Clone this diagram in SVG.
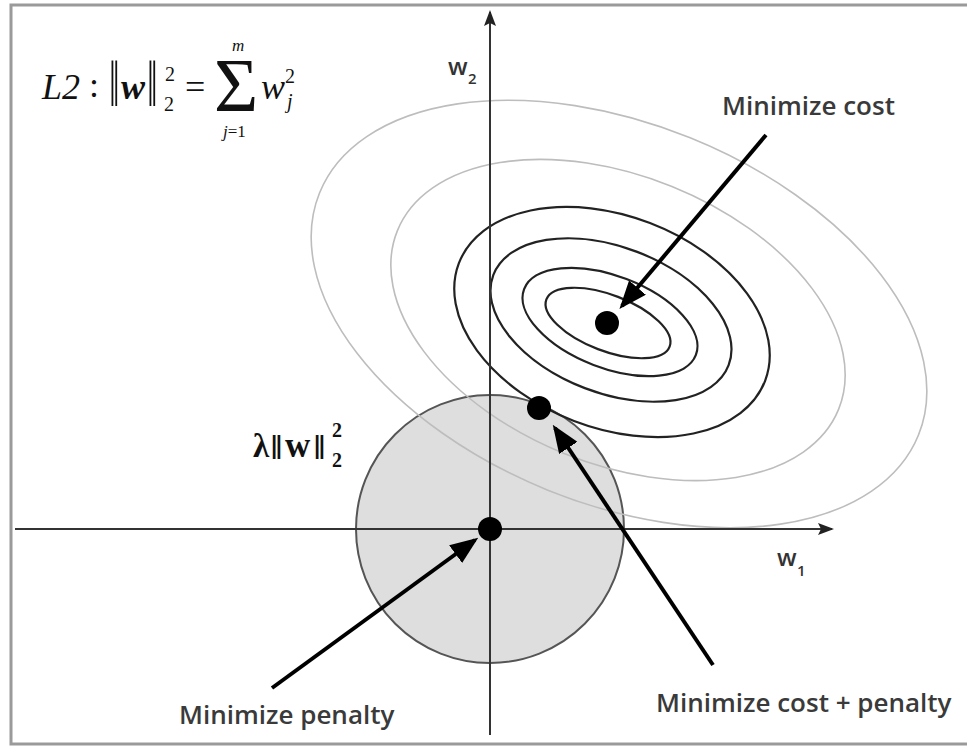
<svg xmlns="http://www.w3.org/2000/svg" width="967" height="746" viewBox="0 0 967 746">
<style>
.frame{fill:none;stroke:#9a9a9a;stroke-width:3}
.axis{stroke:#333;stroke-width:2;fill:none}
.dark{fill:none;stroke:#222;stroke-width:2.2}
.light{fill:none;stroke:#bdbdbd;stroke-width:1.6}
.dot{fill:#000}
.arrow{stroke:#000;stroke-width:4;fill:none}
.lbl{font-family:"Open Sans","Liberation Sans",sans-serif;font-size:26px;font-weight:600;fill:#3a3a3a}
.ax{font-family:"Open Sans","Liberation Sans",sans-serif;font-size:24px;font-weight:600;fill:#333}
.axs{font-family:"Open Sans","Liberation Sans",sans-serif;font-size:15px;font-weight:600;fill:#333}
.m{font-family:"Liberation Serif","DejaVu Serif",serif;fill:#111}
</style>
<defs>
<marker id="axhead" markerUnits="userSpaceOnUse" markerWidth="16" markerHeight="12" refX="14" refY="6" orient="auto">
<path d="M0,0 L16,6 L0,12 L3,6 z" fill="#222"/>
</marker>
<marker id="head" markerUnits="userSpaceOnUse" markerWidth="28" markerHeight="22" refX="24" refY="11" orient="auto">
<path d="M0,0 L28,11 L0,22 z" fill="#000"/>
</marker>
</defs>
<rect class="frame" x="11" y="5" width="960" height="739"/>

<g id="penalty-region">
<circle cx="490" cy="529" r="134" fill="#dedede" stroke="#555" stroke-width="2"/>
</g>

<g id="cost-contours">
<ellipse class="light" cx="619" cy="314" rx="323" ry="190" transform="rotate(22 619 314)"/>
<ellipse class="light" cx="618" cy="320" rx="238" ry="144" transform="rotate(22 618 320)"/>
<ellipse class="dark" cx="612" cy="322" rx="164" ry="106" transform="rotate(21 612 322)"/>
<ellipse class="dark" cx="611" cy="320" rx="126" ry="73" transform="rotate(21 611 320)"/>
<ellipse class="dark" cx="610" cy="322" rx="92" ry="46" transform="rotate(21 610 322)"/>
<ellipse class="dark" cx="608" cy="323" rx="66" ry="28" transform="rotate(21 608 323)"/>
</g>

<g id="axes">
<line class="axis" x1="490" y1="735" x2="490" y2="12" marker-end="url(#axhead)"/>
<line class="axis" x1="15" y1="529" x2="832" y2="529" marker-end="url(#axhead)"/>
<text class="ax" x="448" y="75">w</text><text class="axs" x="468" y="84">2</text>
<text class="ax" x="777" y="566">w</text><text class="axs" x="797" y="576">1</text>
</g>

<g id="points">
<circle class="dot" cx="607" cy="323" r="12"/>
<circle class="dot" cx="539" cy="408" r="12"/>
<circle class="dot" cx="490" cy="529" r="12"/>
</g>

<g id="connectors">
<line class="arrow" x1="766" y1="135" x2="622" y2="306" marker-end="url(#head)"/>
<line class="arrow" x1="713" y1="665" x2="555" y2="428" marker-end="url(#head)"/>
<line class="arrow" x1="272" y1="688" x2="475" y2="540" marker-end="url(#head)"/>
</g>

<g id="labels">
<text class="lbl" x="722" y="115">Minimize cost</text>
<text class="lbl" x="656" y="712">Minimize cost + penalty</text>
<text class="lbl" x="179" y="724">Minimize penalty</text>
</g>

<g id="l2-formula" class="m">
<text x="42" y="99" font-size="36" font-style="italic">L2</text>
<text x="89" y="97" font-size="36">:</text>
<text transform="translate(109,106) scale(1,1.7)" font-size="38">‖</text>
<text x="121" y="99" font-size="36" font-style="italic" font-weight="bold">w</text>
<text transform="translate(147,106) scale(1,1.7)" font-size="38">‖</text>
<text x="165" y="81" font-size="20">2</text>
<text x="164" y="111" font-size="20">2</text>
<text x="185" y="99" font-size="36">=</text>
<text x="214" y="111" font-size="76">Σ</text>
<text x="232" y="51" font-size="17" font-style="italic">m</text>
<text x="223" y="137" font-size="17"><tspan font-style="italic">j</tspan>=1</text>
<text x="261" y="99" font-size="36" font-style="italic">w</text>
<text x="285" y="83" font-size="20">2</text>
<text x="287" y="108" font-size="20" font-style="italic">j</text>
</g>

<g id="penalty-label" class="m" font-weight="bold">
<text x="253" y="457" font-size="33">λ</text>
<text x="271" y="459" font-size="34">‖</text>
<text x="285" y="457" font-size="35">w</text>
<text x="314" y="459" font-size="34">‖</text>
<text x="332" y="437" font-size="20">2</text>
<text x="332" y="467" font-size="20">2</text>
</g>
</svg>
